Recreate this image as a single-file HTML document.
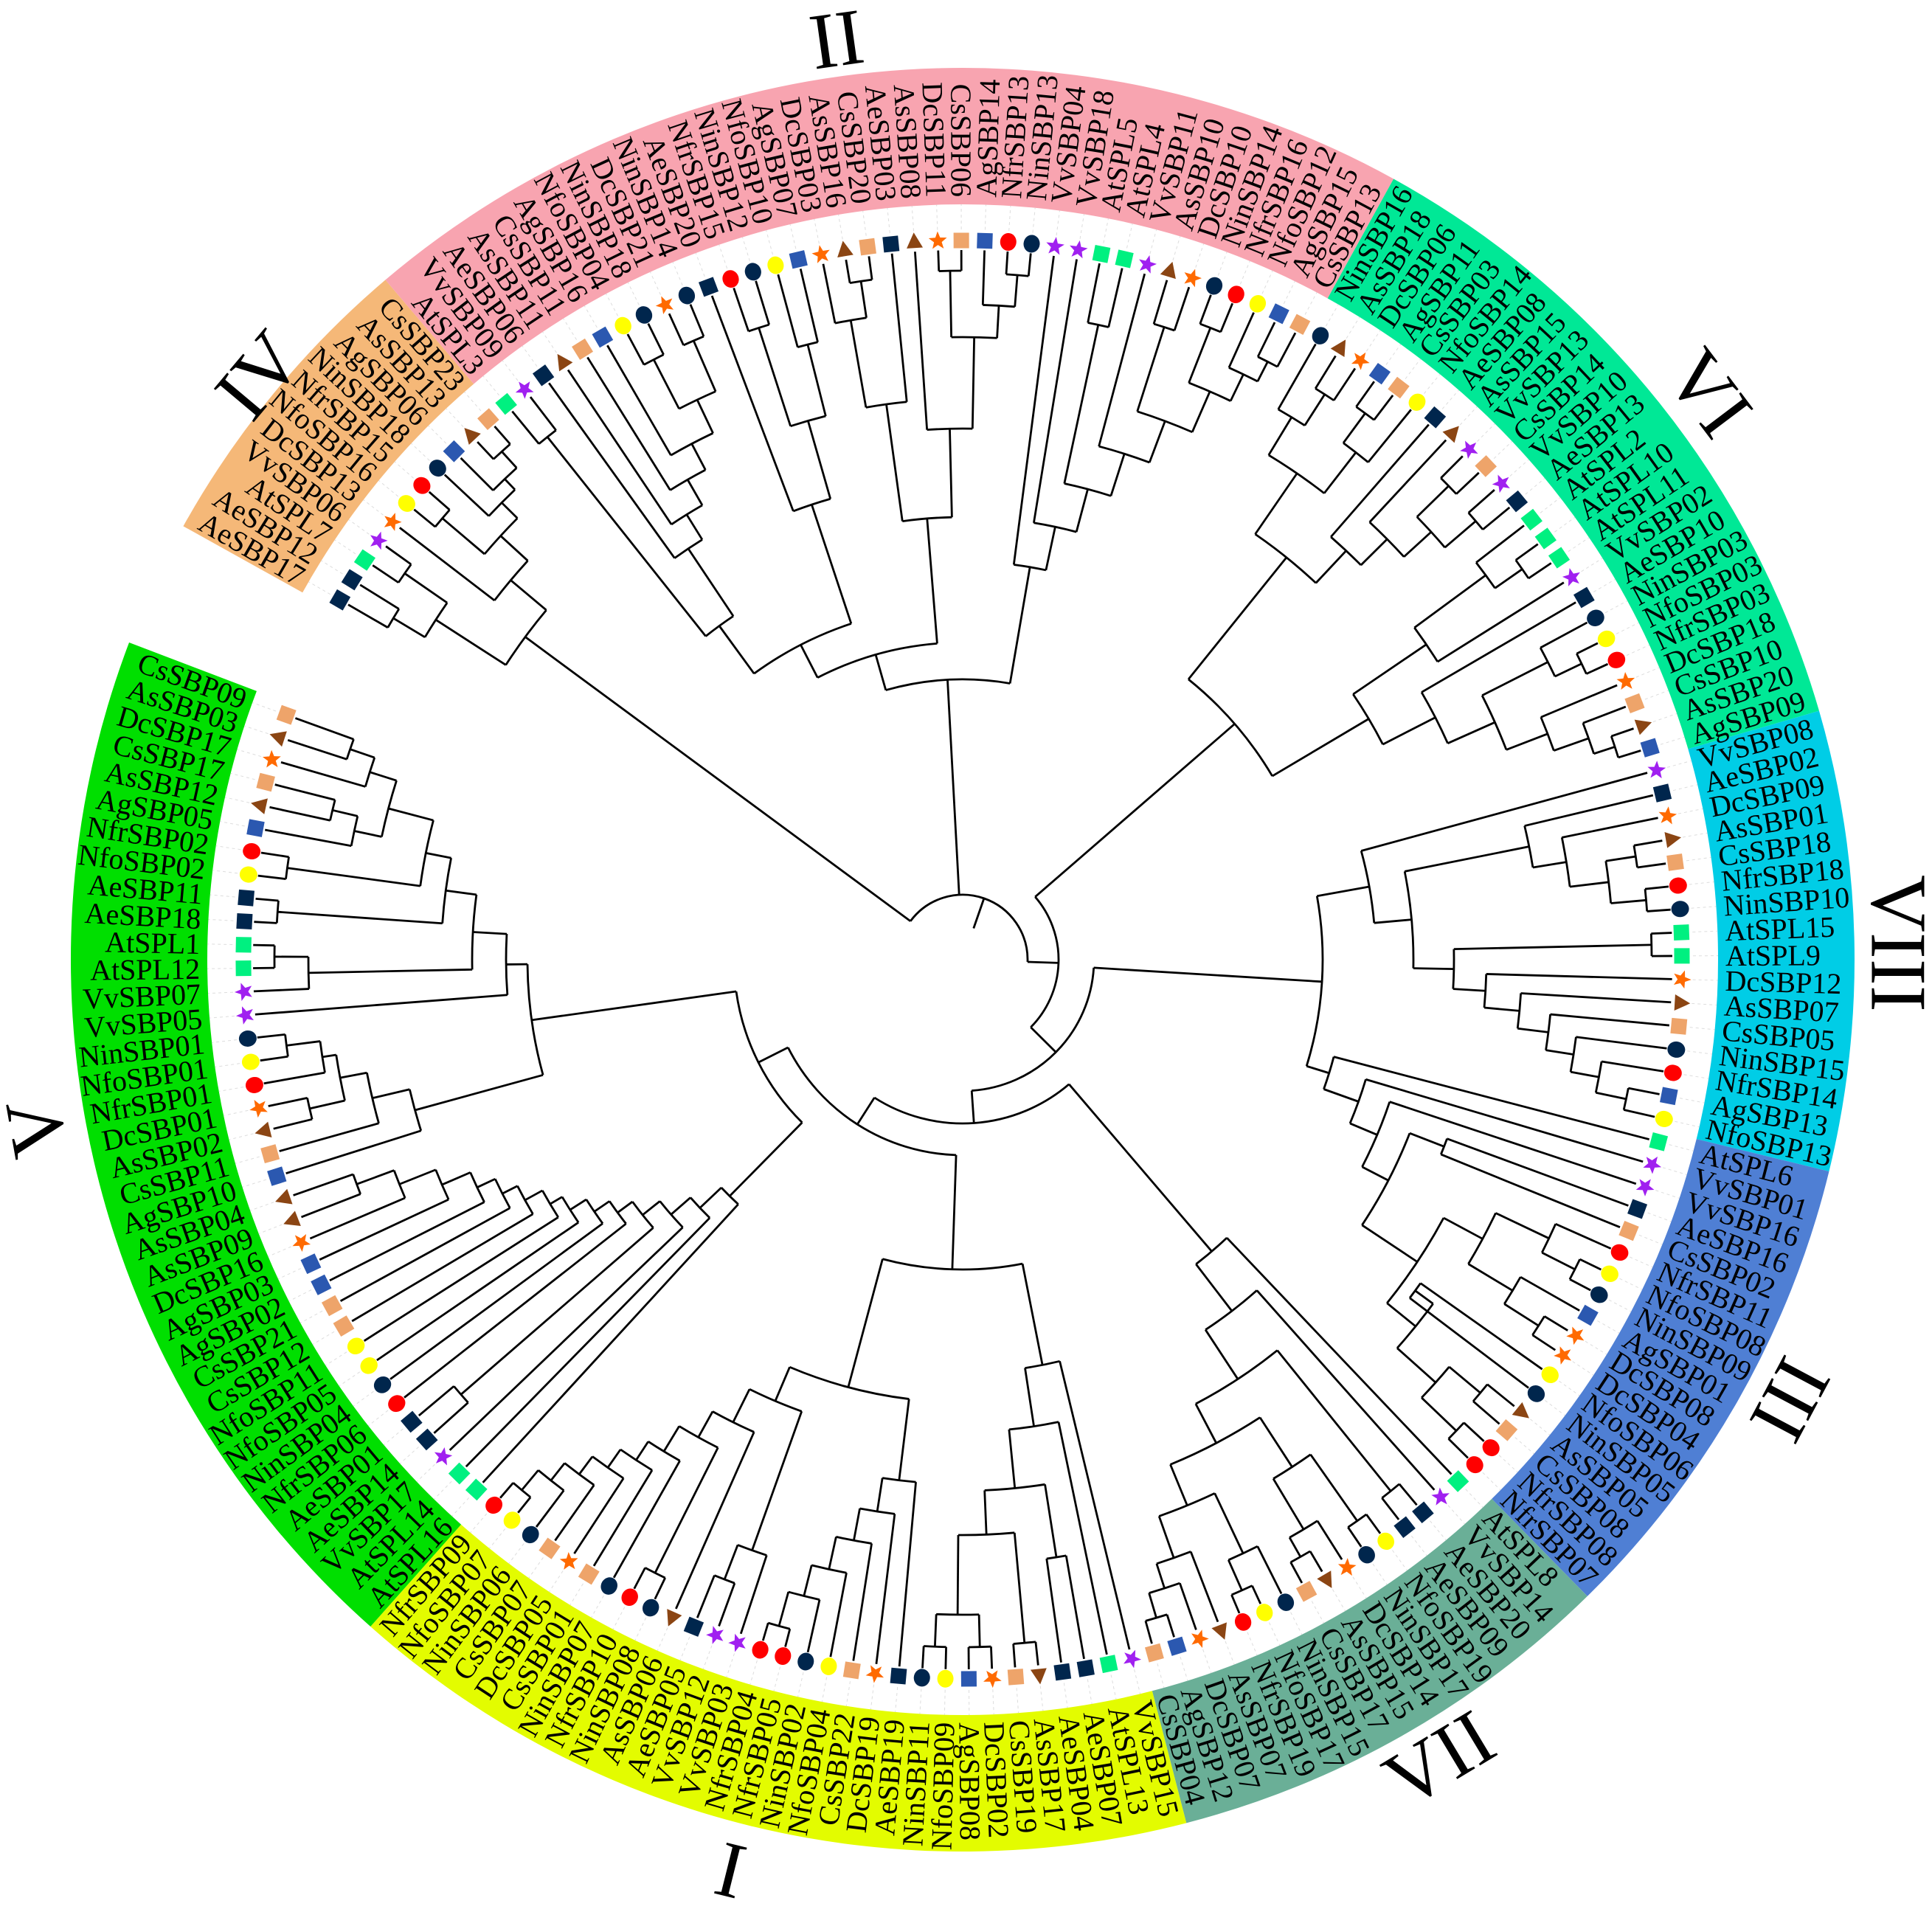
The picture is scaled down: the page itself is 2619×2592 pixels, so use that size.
<!DOCTYPE html>
<html>
<head>
<meta charset="utf-8">
<style>
  html, body { margin: 0; padding: 0; background: #ffffff; }
  svg { display: block; }
  .lbl { font-family: "Liberation Serif", "DejaVu Serif", serif; font-size: 40px; fill: #000; }
  .roman { font-family: "Liberation Serif", "DejaVu Serif", serif; font-size: 108px; fill: #000; }
</style>
</head>
<body>
<svg id="chart" xmlns="http://www.w3.org/2000/svg" width="2619" height="2592" viewBox="0 0 2619 2592">
  <rect x="0" y="0" width="2619" height="2592" fill="#ffffff"/>
  <g id="bands"></g>
  <g id="leaders"></g>
  <g id="branches"></g>
  <g id="markers"></g>
  <g id="labels"></g>
  <g id="romans"></g>
</svg>
<script>
// ---------- data ----------
const cladeNames = ["IV", "II", "VI", "VIII", "III", "VII", "I", "V"];
const cladeColors = ["#f5b878", "#f8a4b0", "#00e896", "#00cde6", "#4f7fd4", "#6aaf97", "#e3fc00", "#00df00"];

const treeIV = "(((AeSBP17,AeSBP12):900,(AtSPL7,VvSBP06):920):850,(DcSBP13,((NfoSBP16,NfrSBP15):925,(NinSBP18,(AgSBP06,(AsSBP13,CsSBP23):930):900):880):850):800):737";

const treeIIa = "((AtSPL3,VvSBP09):905,(AeSBP06,(AsSBP11,(CsSBP11,(AgSBP16,((NfoSBP04,NinSBP18):915,(DcSBP21,NinSBP14):915):840):790):750):710):670):560";
const treeIIa2 = "(AeSBP20,((NfrSBP15,NinSBP12):900,(NfoSBP10,AgSBP07):860):760):650";
const treeIIb = "(((DcSBP03,(AsSBP16,CsSBP20):930):880,AeSBP03):760,(AsSBP08,((DcSBP11,CsSBP06):934,(AgSBP14,(NfrSBP13,NinSBP13):931):888):844):720):600";
const treeIIc = "(VvSBP04,(VvSBP18,((AtSPL5,AtSPL4):880,(VvSBP11,((AsSBP10,DcSBP10):900,((NinSBP14,NfrSBP16):920,(NfoSBP12,(AgSBP15,CsSBP13):910):880):840):780):720):660):600):540";
const treeII = "(((" + treeIIa + "," + treeIIa2 + "):480," + treeIIb + "):430," + treeIIc + "):380";

const treeVI = "((((NinSBP16,(AsSBP18,DcSBP06):910):860,((AgSBP11,CsSBP03):920,NfoSBP14):870):800,(AeSBP08,(AsSBP15,((VvSBP13,CsSBP14):920,(VvSBP10,AeSBP13):915):860):810):760):700,(((AtSPL2,(AtSPL10,AtSPL11):925):880,VvSBP02):760,(AeSBP10,((NinSBP03,(NfoSBP03,NfrSBP03):930):890,(DcSBP18,(CsSBP10,(AsSBP20,AgSBP09):930):900):850):790):720):640):488";

const treeVIII = "(VvSBP08,((AeSBP02,(DcSBP09,((AsSBP01,CsSBP18):923,(NfrSBP18,NinSBP10):930):882):829):783,((AtSPL15,AtSPL9):934,(DcSBP12,(AsSBP07,(CsSBP05,(NinSBP15,(NfrSBP14,(AgSBP13,NfoSBP13):919):877):838):800):758):710):666):611):560";

const treeIIIinner1 = "((NfrSBP11,(NfoSBP08,NinSBP09):930):880,(AgSBP01,(DcSBP08,DcSBP04):925):870):800";
const treeIIIinner2 = "((NfoSBP06,NinSBP05):760,((AsSBP05,CsSBP08):915,(NfrSBP08,NfrSBP07):925):860):790";
const treeIII = "(AtSPL6,(VvSBP01,(VvSBP16,((AeSBP16,CsSBP02):700,(" + treeIIIinner1 + "," + treeIIIinner2 + "):740):650):610):570):520";

const treeVIIa = "(AeSBP20,AeSBP09):925";
const treeVIIb = "((NfoSBP19,NinSBP17):930,(DcSBP14,(AsSBP15,CsSBP17):930):900):820";
const treeVIIc = "((NinSBP15,(NfoSBP17,NfrSBP19):935):890,(AsSBP07,(DcSBP07,(AgSBP12,CsSBP04):930):895):860):800";
const treeVII = "(AtSPL8,(VvSBP14,(" + treeVIIa + ",(" + treeVIIb + "," + treeVIIc + "):740):680):600):520";

const treeIright = "(VvSBP15,(AtSPL13,((AeSBP07,AeSBP04):820,((AsSBP17,CsSBP19):930,((DcSBP02,AgSBP08):932,(NfoSBP09,NinSBP11):932):888):780):720):640):560";
const treeImid = "(AeSBP19,(DcSBP19,(CsSBP22,(NfoSBP04,(NinSBP02,(NfrSBP05,NfrSBP04):937):889):846):801):757):711";
const treeIleft = "((VvSBP03,(VvSBP12,AeSBP05):900):850,(AsSBP06,((NinSBP08,NfrSBP10):930,(NinSBP07,(CsSBP01,(DcSBP05,(CsSBP07,(NinSBP06,(NfoSBP07,NfrSBP09):935):900):870):840):810):780):740):700):650";
const treeI = "(" + treeIright + ",(" + treeImid + "," + treeIleft + "):600):420";

const treeVlow = "(AtSPL16,(AtSPL14,(VvSBP17,((AeSBP14,AeSBP01):900,(NfrSBP06,(NinSBP04,(NfoSBP05,(NfoSBP11,(CsSBP12,(CsSBP21,(AgSBP02,(AgSBP03,(DcSBP16,(AsSBP09,AsSBP04):876):822):769):727):700):677):650):631):605):580):555):525):490):450";
const treeVlg = "(AgSBP10,(CsSBP11,((AsSBP02,DcSBP01):908,(NfrSBP01,(NfoSBP01,NinSBP01):924):878):859):822):770";
const treeVup = "(VvSBP05,((VvSBP07,(AtSPL12,AtSPL1):933):887,((AeSBP18,AeSBP11):931,((NfoSBP02,NfrSBP02):924,((AgSBP05,(AsSBP12,CsSBP17):878):843,(DcSBP17,(AsSBP03,CsSBP09):878):843):805):742):707):665):619";
const treeV = "(" + treeVlow + ",(" + treeVlg + "," + treeVup + "):590):310";

// backbone radii (root, A, B, VIII+III, C, D)
const backboneRadii = [88, 130, 178, 488, 222, 265];

const romanLabels = ["II", "VI", "VIII", "III", "VII", "I", "V", "IV"];
const romanAngles = [-7.8, 52.8, 89, 118, 149.2, 194.3, 259.7, 309.7];
const romanRadii = [1259, 1270, 1268, 1270, 1262, 1274, 1276, 1240];
const romanRotations = [-8, 53, 90, -62, -31, 14, -100, -50];

const speciesPrefixes = ["Nin", "Nfo", "Nfr", "At", "Vv", "Ae", "Dc", "As", "Cs", "Ag"];
const speciesShapes = ["circ", "circ", "circ", "sq", "star", "sq", "star", "tri", "sq", "sq"];
const speciesColors = ["#00264d", "#ffff00", "#ff0000", "#00f080", "#a020f0", "#00264d", "#ff6a00", "#8b4513", "#eea46a", "#2b58b0"];

// ---------- geometry ----------
const CX = 1305, CY = 1301;
const STEP = 1.871, THETA0 = 320.6;
const R_TIP = 962, R_MARK = 975, R_LABEL = 1034, R_BAND_IN = 1024, R_BAND_OUT = 1209;
const NS = "http://www.w3.org/2000/svg";

function pol(r, th) { const a = th * Math.PI / 180; return [CX + r * Math.sin(a), CY - r * Math.cos(a)]; }
function mk(tag, attrs) { const e = document.createElementNS(NS, tag); for (const k in attrs) e.setAttribute(k, attrs[k]); return e; }

function parse(s) {
  let i = 0;
  function node() {
    if (s[i] === '(') {
      i++;
      const ch = [node()];
      while (s[i] === ',') { i++; ch.push(node()); }
      i++;
      let r = null;
      if (s[i] === ':') { i++; const st = i; while (i < s.length && /[0-9.]/.test(s[i])) i++; r = parseFloat(s.slice(st, i)); }
      return { ch: ch, r: r };
    }
    const st = i;
    while (i < s.length && !/[,():]/.test(s[i])) i++;
    return { name: s.slice(st, i) };
  }
  return node();
}

const cladeTrees = [treeIV, treeII, treeVI, treeVIII, treeIII, treeVII, treeI, treeV].map(parse);
const [tIV, tII, tVI, tVIII, tIII, tVII, tI, tV] = cladeTrees;
const nodeD = { ch: [tI, tV], r: backboneRadii[5] };
const nodeC = { ch: [tVII, nodeD], r: backboneRadii[4] };
const nodeVIII_III = { ch: [tVIII, tIII], r: backboneRadii[3] };
const nodeB = { ch: [nodeVIII_III, nodeC], r: backboneRadii[2] };
const nodeA = { ch: [tVI, nodeB], r: backboneRadii[1] };
const root = { ch: [tIV, tII, nodeA], r: backboneRadii[0] };

// assign leaf angles
let leafIdx = 0;
const leaves = [];
function assign(n) {
  if (n.name !== undefined) { n.th = THETA0 + (leafIdx - 11) * STEP; n.rr = R_TIP; leafIdx++; leaves.push(n); return; }
  n.ch.forEach(assign);
  n.th = (n.ch[0].th + n.ch[n.ch.length - 1].th) / 2;
  n.rr = n.r;
}
assign(root);

const svg = document.getElementById('chart');
const gBands = document.getElementById('bands');
const gLead = document.getElementById('leaders');
const gBr = document.getElementById('branches');
const gMk = document.getElementById('markers');
const gLb = document.getElementById('labels');
const gRo = document.getElementById('romans');

// bands
function leafList(n, out) { if (n.name !== undefined) out.push(n); else n.ch.forEach(c => leafList(c, out)); return out; }
cladeTrees.forEach((t, k) => {
  const lv = leafList(t, []);
  const a1 = lv[0].th - STEP / 2, a2 = lv[lv.length - 1].th + STEP / 2;
  const p1 = pol(R_BAND_IN, a1), p2 = pol(R_BAND_OUT, a1), p3 = pol(R_BAND_OUT, a2), p4 = pol(R_BAND_IN, a2);
  const large = (a2 - a1) > 180 ? 1 : 0;
  const d = `M${p1[0]},${p1[1]} L${p2[0]},${p2[1]} A${R_BAND_OUT},${R_BAND_OUT} 0 ${large} 1 ${p3[0]},${p3[1]} L${p4[0]},${p4[1]} A${R_BAND_IN},${R_BAND_IN} 0 ${large} 0 ${p1[0]},${p1[1]} Z`;
  const el = mk('path', { d: d, fill: cladeColors[k] });
  
  
  gBands.appendChild(el);
});

// branches
function drawNode(n) {
  if (n.name !== undefined) return;
  const first = n.ch[0], last = n.ch[n.ch.length - 1];
  const a1 = first.th, a2 = last.th;
  const p1 = pol(n.rr, a1), p2 = pol(n.rr, a2);
  const large = (a2 - a1) > 180 ? 1 : 0;
  const arc = mk('path', { d: `M${p1[0]},${p1[1]} A${n.rr},${n.rr} 0 ${large} 1 ${p2[0]},${p2[1]}`, fill: 'none', stroke: '#000', 'stroke-width': 2.8 });
  
  
  gBr.appendChild(arc);
  n.ch.forEach(c => {
    const q1 = pol(n.rr, c.th), q2 = pol(c.rr, c.th);
    const ln = mk('line', { x1: q1[0], y1: q1[1], x2: q2[0], y2: q2[1], stroke: '#000', 'stroke-width': 2.8 });
    
    
    gBr.appendChild(ln);
    drawNode(c);
  });
}
drawNode(root);
// root stub
{
  const q1 = pol(root.rr, root.th), q2 = pol(45, root.th);
  const ln = mk('line', { x1: q1[0], y1: q1[1], x2: q2[0], y2: q2[1], stroke: '#000', 'stroke-width': 2.8 });
  
  
  gBr.appendChild(ln);
}

// markers + labels
function species(name) {
  for (let k = 0; k < speciesPrefixes.length; k++) if (name.startsWith(speciesPrefixes[k])) return k;
  return 0;
}
function starPts(ro, ri) {
  const pts = [];
  for (let k = 0; k < 10; k++) { const r = k % 2 === 0 ? ro : ri; const a = Math.PI * k / 5; pts.push((r * Math.sin(a)).toFixed(2) + ',' + (-r * Math.cos(a)).toFixed(2)); }
  return pts.join(' ');
}
leaves.forEach(lf => {
  const k = species(lf.name);
  const pos = pol(R_MARK, lf.th);
  const g = mk('g', { transform: `translate(${pos[0]},${pos[1]}) rotate(${lf.th})` });
  
  
  let shape;
  const col = speciesColors[k];
  if (speciesShapes[k] === 'sq') shape = mk('rect', { x: -10.5, y: -10.5, width: 21, height: 21, fill: col });
  else if (speciesShapes[k] === 'circ') shape = mk('ellipse', { cx: 0, cy: 0, rx: 11, ry: 12, fill: col });
  else if (speciesShapes[k] === 'star') shape = mk('polygon', { points: starPts(13, 5.5), fill: col });
  else shape = mk('polygon', { points: '0,-13 11,8 -11,8', fill: col });
  g.appendChild(shape);
  gMk.appendChild(g);

  // leader
  const l1 = pol(990, lf.th), l2 = pol(R_BAND_IN, lf.th);
  const ld = mk('line', { x1: l1[0], y1: l1[1], x2: l2[0], y2: l2[1], stroke: '#dddddd', 'stroke-width': 1, 'stroke-dasharray': '4 4' });
  
  
  gLead.appendChild(ld);

  // label
  const th = ((lf.th % 360) + 360) % 360;
  const right = th > 0.5 && th <= 180;
  const t = mk('text', { class: 'lbl', 'dominant-baseline': 'central' });
  if (right) {
    t.setAttribute('x', CX + R_LABEL); t.setAttribute('y', CY);
    t.setAttribute('text-anchor', 'start');
    t.setAttribute('transform', `rotate(${th - 90} ${CX} ${CY})`);
  } else {
    t.setAttribute('x', CX - R_LABEL); t.setAttribute('y', CY);
    t.setAttribute('text-anchor', 'end');
    t.setAttribute('transform', `rotate(${th + 90} ${CX} ${CY})`);
  }
  t.textContent = lf.name;
  
  
  gLb.appendChild(t);
});

// roman numerals
romanLabels.forEach((txt, k) => {
  const p = pol(romanRadii[k], romanAngles[k]);
  const t = mk('text', { class: 'roman', x: p[0], y: p[1], 'text-anchor': 'middle', 'dominant-baseline': 'central', transform: `rotate(${romanRotations[k]} ${p[0]} ${p[1]})` });
  t.textContent = txt;
  
  
  gRo.appendChild(t);
});
</script>
</body>
</html>
